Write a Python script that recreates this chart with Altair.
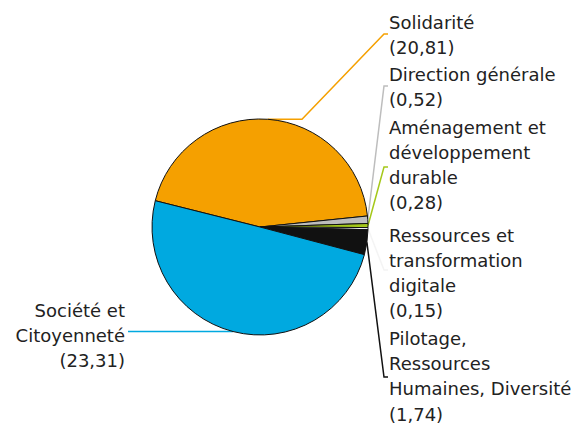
import math
import altair as alt
import pandas as pd

# ---- data ----
categories = [
    "Solidarité",
    "Direction générale",
    "Aménagement et développement durable",
    "Ressources et transformation digitale",
    "Pilotage, Ressources Humaines, Diversité",
    "Société et Citoyenneté",
]
values = [20.81, 0.52, 0.28, 0.15, 1.74, 23.31]
value_labels = ["(20,81)", "(0,52)", "(0,28)", "(0,15)", "(1,74)", "(23,31)"]
label_lines = [
    ["Solidarité"],
    ["Direction générale"],
    ["Aménagement et", "développement", "durable"],
    ["Ressources et", "transformation", "digitale"],
    ["Pilotage,", "Ressources", "Humaines, Diversité"],
    ["Société et", "Citoyenneté"],
]
colors = ["#F5A000", "#BDBDBD", "#A5C81A", "#F4F4F4", "#111111", "#00A9E0"]

# ---- layout (pixels, chart coordinates) ----
W, H = 566, 416
OFF = 8
CX, CY, R = 260 - OFF, 227 - OFF, 108
START_DEG = -75.9
START = math.radians(START_DEG)
TEXT_X_RIGHT = 381
TEXT_X_LEFT = 125 - OFF
first_baseline = [28.5, 81.0, 133.5, 241.5, 345.0, 316.7]
leader_end_y = [34, 86, 167, 270, 377, 332]
side = ["R", "R", "R", "R", "R", "L"]
FONT_SIZE = 18
LINE_H = 25.2

total = sum(values)
pie_df = pd.DataFrame({"cat": categories, "value": values, "idx": list(range(len(values)))})

# leader lines: anchor computed from slice mid-angle
rows = []
cum = 0.0
for i, v in enumerate(values):
    mid = START + 2 * math.pi * (cum + v / 2) / total
    cum += v
    ax = CX + R * math.sin(mid)
    ay = CY - R * math.cos(mid)
    ey = leader_end_y[i] - OFF
    if side[i] == "L":
        pts = [(ax, ay), (128 - OFF, ay)]
    elif i == 0:
        pts = [(ax, ay), (302 - OFF, ay), (384 - OFF, ey), (388 - OFF, ey)]
    else:
        pts = [(ax, ay), (384 - OFF, ey), (388 - OFF, ey)]
    for k, (px, py) in enumerate(pts):
        rows.append({"cat": categories[i], "k": k, "x": px, "y": py})
lines_df = pd.DataFrame(rows)

text_rows_r, text_rows_l = [], []
for i in range(len(values)):
    t = "\n".join(label_lines[i] + [value_labels[i]])
    row = {"t": t, "y": first_baseline[i] - OFF}
    if side[i] == "R":
        row["x"] = TEXT_X_RIGHT
        text_rows_r.append(row)
    else:
        row["x"] = TEXT_X_LEFT
        text_rows_l.append(row)
text_r = pd.DataFrame(text_rows_r)
text_l = pd.DataFrame(text_rows_l)

color_scale = alt.Scale(domain=categories, range=colors)
xs = alt.Scale(domain=[0, W], range=[0, W], nice=False, zero=False)
ys = alt.Scale(domain=[0, H], range=[0, H], nice=False, zero=False)

pie = alt.Chart(pie_df).mark_arc(radius=R, stroke="#111111", strokeWidth=1).encode(
    theta=alt.Theta("value:Q", stack=True,
                    scale=alt.Scale(range=[START, START + 2 * math.pi])),
    order=alt.Order("idx:Q"),
    color=alt.Color("cat:N", scale=color_scale, legend=None),
    x=alt.value(CX),
    y=alt.value(CY),
)

leaders = alt.Chart(lines_df).mark_line(strokeWidth=1.5).encode(
    x=alt.X("x:Q", scale=xs, axis=None),
    y=alt.Y("y:Q", scale=ys, axis=None),
    detail="cat:N",
    order="k:Q",
    color=alt.Color("cat:N", scale=color_scale, legend=None),
)

txt_r = alt.Chart(text_r).mark_text(
    align="left", baseline="alphabetic", lineBreak="\n", lineHeight=LINE_H,
    font="DejaVu Sans", fontSize=FONT_SIZE, color="#222222",
).encode(
    x=alt.X("x:Q", scale=xs, axis=None),
    y=alt.Y("y:Q", scale=ys, axis=None),
    text="t:N",
)

txt_l = alt.Chart(text_l).mark_text(
    align="right", baseline="alphabetic", lineBreak="\n", lineHeight=LINE_H,
    font="DejaVu Sans", fontSize=FONT_SIZE, color="#222222",
).encode(
    x=alt.X("x:Q", scale=xs, axis=None),
    y=alt.Y("y:Q", scale=ys, axis=None),
    text="t:N",
)

chart = alt.layer(leaders, pie, txt_r, txt_l).properties(
    width=W, height=H, padding=0,
    autosize=alt.AutoSizeParams(type="none"),
).configure_view(stroke=None)

chart.save("out.html", embed_options={"renderer": "svg", "actions": False})
